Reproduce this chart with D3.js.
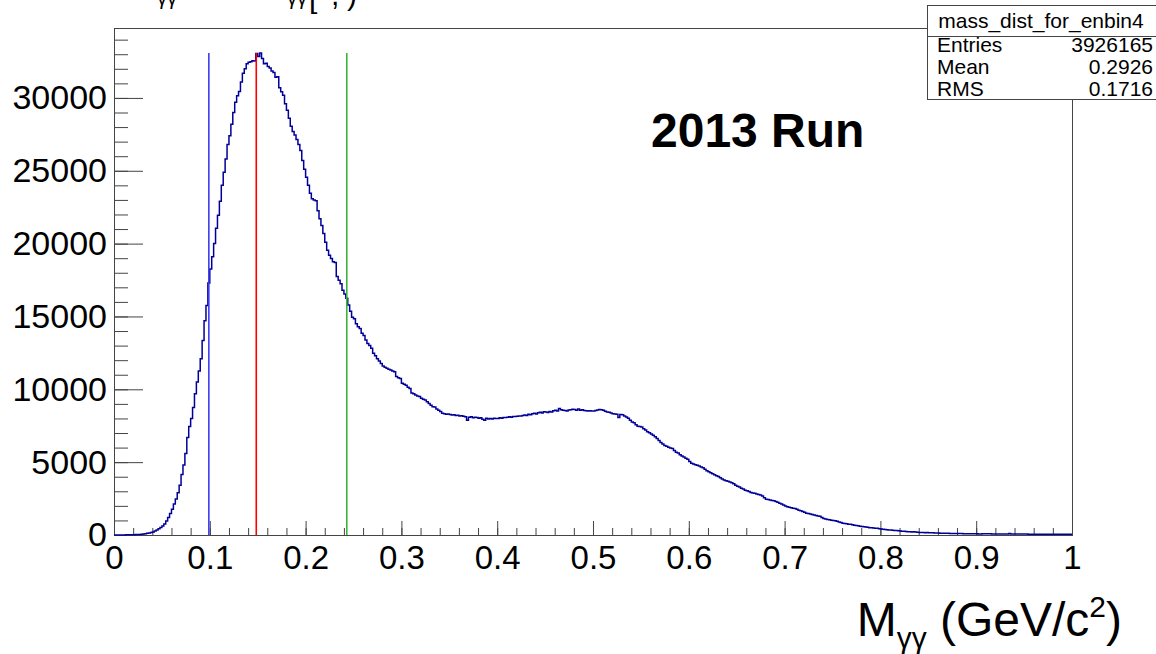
<!DOCTYPE html>
<html>
<head>
<meta charset="utf-8">
<script src="https://cdn.jsdelivr.net/npm/d3@7"></script>
<style>
  body { margin: 0; background: #fff; }
  svg { display: block; font-family: 'Liberation Sans', Arial, Helvetica, sans-serif; }
</style>
</head>
<body>
<svg width="1156" height="654"></svg>
<script>
// histogram: 500 bins of 0.002 from 0 to 1
const binWidth = 0.002;
const counts = [
  2,3,5,4,6, 8,10,12,15,18,
  22,28,35,42,55, 70,90,115,140,175,
  210,270,350,430,520, 610,750,960,1200,1480,
  1760,2120,2470,2900,3420, 4150,4800,5600,6700,7450,
  8000,8750,9700,10500,11250, 12100,13350,14700,15750,17300,
  18250,19100,20000,21050,21950, 22900,24000,24900,25800,26800,
  27400,28200,29000,29700,30150, 30450,31100,31700,32000,32350,
  32450,32480,32560,32540,33050, 32850,33080,32700,32350,32380,
  32150,32050,31850,31750,31420, 31450,30700,30420,30180,29600,
  29150,28600,28050,27700,27450, 27150,26800,26400,25700,25100,
  24550,24000,23450,23080,23000, 22950,22250,21700,21250,20700,
  20100,19550,19200,18980,18750, 18700,17750,17480,17250,16800,
  16550,16250,15780,15350,14950, 14850,14500,14300,14180,13850,
  13700,13380,13150,13000,12820, 12480,12300,12100,11950,11780,
  11600,11520,11450,11380,11320, 11250,11200,10880,10800,10740,
  10420,10350,10280,10150,10060, 9750,9700,9610,9540,9500,
  9380,9320,9270,9150,9030, 8900,8800,8780,8650,8560,
  8480,8360,8320,8290,8310, 8270,8240,8260,8200,8220,
  8170,8190,8150,8120,7880, 8080,8110,8050,8090,8060,
  8020,8040,7950,7880,8010, 7970,8000,7960,8010,7990,
  8000,8040,8010,8070,8060, 8090,8110,8080,8130,8140,
  8150,8170,8160,8210,8230, 8200,8290,8260,8320,8350,
  8300,8390,8420,8370,8460, 8440,8400,8470,8450,8530,
  8560,8510,8680,8590,8560, 8540,8510,8580,8600,8630,
  8610,8570,8640,8560,8590, 8540,8520,8510,8530,8510,
  8510,8540,8580,8610,8600, 8560,8500,8450,8420,8380,
  8330,8300,8280,8060,8270, 8250,8160,8100,8020,7880,
  7760,7700,7560,7470,7440, 7420,7300,7200,7080,7010,
  6930,6850,6740,6620,6480, 6350,6250,6150,6100,6020,
  5970,5930,5800,5680,5620, 5500,5420,5360,5270,5200,
  5050,4920,4880,4830,4790, 4730,4660,4610,4510,4410,
  4350,4280,4210,4140,4070, 4020,3930,3840,3780,3720,
  3690,3640,3590,3510,3420, 3350,3290,3210,3150,3080,
  3030,2980,2920,2890,2870, 2820,2780,2740,2680,2560,
  2460,2430,2400,2370,2350, 2300,2250,2180,2120,2060,
  1990,1940,1900,1870,1840, 1820,1760,1700,1660,1610,
  1560,1500,1480,1450,1400, 1370,1340,1310,1290,1200,
  1140,1100,1070,1040,1010, 990,970,950,900,850,
  810,790,770,745,730, 700,675,650,630,600,
  580,565,545,525,505, 495,480,470,455,430,
  410,395,380,365,350, 340,330,315,305,295,
  280,265,250,240,225, 215,205,220,200,190,
  180,175,170,160,165, 155,150,148,142,138,
  132,128,125,120,116, 112,110,106,104,101,
  99,97,95,93,92, 90,88,87,85,84,
  82,70,68,78,80, 84,80,78,77,76,
  75,74,73,72,71, 70,69,95,68,67,
  66,65,64,63,62, 62,61,60,60,59,
  58,58,57,56,56, 55,55,54,54,53,
  53,52,52,51,51, 50,50,49,49,48
];

// mass window lines
const cutValues = [0.099, 0.1485, 0.243];

const xTickValues = [0, 0.1, 0.2, 0.3, 0.4, 0.5, 0.6, 0.7, 0.8, 0.9, 1];
const xTickLabels = ['0', '0.1', '0.2', '0.3', '0.4', '0.5', '0.6', '0.7', '0.8', '0.9', '1'];
const yTickValues = [0, 5000, 10000, 15000, 20000, 25000, 30000];
const yTickLabels = ['0', '5000', '10000', '15000', '20000', '25000', '30000'];

const statsTitle = 'mass_dist_for_enbin4';
const statsLabels = ['Entries', 'Mean', 'RMS'];
const statsValues = ['3926165', '0.2926', '0.1716'];

const svg = d3.select('svg');
const frame = { left: 114, right: 1072, top: 28, bottom: 535 };

const x = d3.scaleLinear().domain([0, 1]).range([frame.left, frame.right]);
const y = d3.scaleLinear().domain([0, 34800]).range([frame.bottom, frame.top]);

// title, mostly above the window edge (only descenders show)
const title = svg.append('text').attr('fill', '#000');
title.append('tspan').attr('x', 157).attr('y', 5).attr('font-size', 20).text('γγ');
title.append('tspan').attr('x', 287).attr('y', 5).attr('font-size', 20).text('γγ');
title.append('tspan').attr('x', 309).attr('y', 8).attr('font-size', 30).text('[');
title.append('tspan').attr('x', 331).attr('y', 5).attr('font-size', 30).text(',');
title.append('tspan').attr('x', 347).attr('y', 5).attr('font-size', 30).text(')');

// minor ticks
const minorX = d3.range(0, 1.0001, 0.02);
const minorY = d3.range(0, 34001, 1000);

svg.append('g')
    .attr('transform', `translate(0,${frame.bottom})`)
    .call(d3.axisBottom(x).tickValues(minorX).tickSize(-7).tickSizeOuter(0).tickFormat(''))
    .call(g => g.select('.domain').remove())
    .selectAll('line').attr('stroke', '#444');

svg.append('g')
    .attr('transform', `translate(${frame.left},0)`)
    .call(d3.axisLeft(y).tickValues(minorY).tickSize(-14).tickSizeOuter(0).tickFormat(''))
    .call(g => g.select('.domain').remove())
    .selectAll('line').attr('stroke', '#444');

// major ticks + labels
const xAxis = svg.append('g')
    .attr('transform', `translate(0,${frame.bottom})`)
    .call(d3.axisBottom(x).tickValues(xTickValues).tickSize(-14).tickSizeOuter(0).tickPadding(11)
      .tickFormat((d, i) => xTickLabels[i]));
xAxis.select('.domain').remove();
xAxis.selectAll('line').attr('stroke', '#444');
xAxis.selectAll('text').attr('font-size', 33).attr('fill', '#000')
    .attr('font-family', "'Liberation Sans', Arial, sans-serif");

const yAxis = svg.append('g')
    .attr('transform', `translate(${frame.left},0)`)
    .call(d3.axisLeft(y).tickValues(yTickValues).tickSize(-29).tickSizeOuter(0).tickPadding(7)
      .tickFormat((d, i) => yTickLabels[i]));
yAxis.select('.domain').remove();
yAxis.selectAll('line').attr('stroke', '#444');
yAxis.selectAll('text').attr('font-size', 34).attr('fill', '#000')
    .attr('font-family', "'Liberation Sans', Arial, sans-serif");

// frame
svg.append('rect')
    .attr('x', frame.left + 0.5).attr('y', frame.top + 0.5)
    .attr('width', frame.right - frame.left).attr('height', frame.bottom - frame.top)
    .attr('fill', 'none').attr('stroke', '#444').attr('stroke-width', 1);

// histogram outline
const steps = [];
counts.forEach((c, i) => {
  steps.push([i * binWidth, c]);
  steps.push([(i + 1) * binWidth, c]);
});
const line = d3.line().x(d => x(d[0])).y(d => y(d[1]));
svg.append('path')
    .datum(steps)
    .attr('d', line)
    .attr('fill', 'none')
    .attr('stroke', '#000099')
    .attr('stroke-width', 1.5);

// vertical cut lines
const cutColors = ['#3c3cf0', '#ff0000', '#3cb43c'];
const lineTop = d3.max(counts);
svg.append('g').selectAll('line')
  .data(cutValues)
  .enter().append('line')
    .attr('x1', d => x(d)).attr('x2', d => x(d))
    .attr('y1', y(0)).attr('y2', y(lineTop))
    .attr('stroke', (d, i) => cutColors[i])
    .attr('stroke-width', 1.6);

// run label
svg.append('text')
    .attr('x', 651).attr('y', 147)
    .attr('font-size', 48).attr('font-weight', 'bold')
    .text('2013 Run');

// x axis title
const xt = svg.append('text')
    .attr('x', 1122).attr('y', 636)
    .attr('text-anchor', 'end')
    .attr('font-size', 48);
xt.append('tspan').text('M');
xt.append('tspan').attr('font-size', 30).attr('dy', 12).text('γγ');
xt.append('tspan').attr('dy', -12).text(' (GeV/c');
xt.append('tspan').attr('font-size', 30).attr('dy', -19).text('2');
xt.append('tspan').attr('dy', 19).text(')');

// stats box
const stats = svg.append('g');
stats.append('rect')
    .attr('x', 927.5).attr('y', 5.5).attr('width', 240).attr('height', 94)
    .attr('fill', '#fff').attr('stroke', '#444');
stats.append('line')
    .attr('x1', 927.5).attr('x2', 1156).attr('y1', 36.5).attr('y2', 36.5)
    .attr('stroke', '#444');
stats.append('text')
    .attr('x', 1041).attr('y', 28).attr('text-anchor', 'middle')
    .attr('font-size', 21).text(statsTitle);
stats.selectAll('.lab')
  .data(statsLabels)
  .enter().append('text')
    .attr('class', 'lab')
    .attr('x', 937).attr('y', (d, i) => 52 + i * 22)
    .attr('font-size', 21).text(d => d);
stats.selectAll('.val')
  .data(statsValues)
  .enter().append('text')
    .attr('class', 'val')
    .attr('x', 1153).attr('y', (d, i) => 52 + i * 22)
    .attr('text-anchor', 'end')
    .attr('font-size', 21).text(d => d);
</script>
</body>
</html>
